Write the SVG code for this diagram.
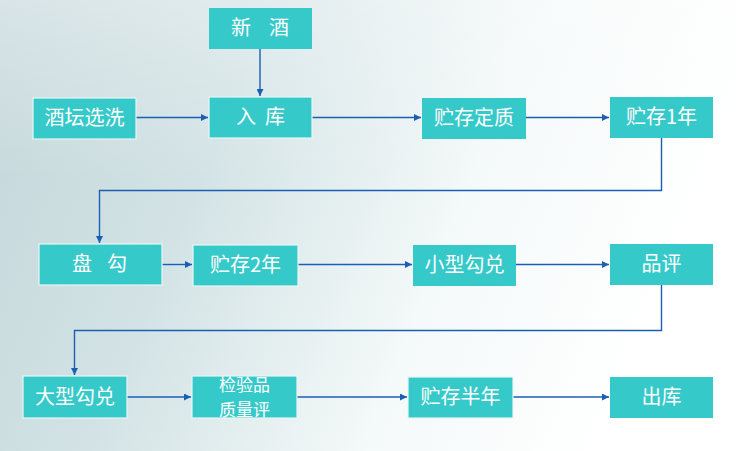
<svg xmlns="http://www.w3.org/2000/svg" width="736" height="451" viewBox="0 0 736 451">
<defs>
<linearGradient id="bg" x1="0" y1="0" x2="1" y2="0.25">
<stop offset="0" stop-color="#c3d6da"/>
<stop offset="0.35" stop-color="#d3e3e5"/>
<stop offset="0.7" stop-color="#f4f9f9"/>
<stop offset="1" stop-color="#ffffff"/>
</linearGradient>
<linearGradient id="bg2" x1="0" y1="0" x2="0" y2="1">
<stop offset="0" stop-color="#ffffff" stop-opacity="0.35"/>
<stop offset="0.4" stop-color="#ffffff" stop-opacity="0"/>
<stop offset="1" stop-color="#ffffff" stop-opacity="0"/>
</linearGradient>
<marker id="arr" viewBox="0 0 10 10" refX="10" refY="5" markerWidth="7" markerHeight="7" markerUnits="userSpaceOnUse" orient="auto">
<path d="M0,0 L10,5 L0,10 z" fill="#1a5fb4"/>
</marker>
<style>
.box{fill:#35c9c9;}
.bw{stroke:#e8f6f6;stroke-width:1.2;}
.t{fill:#ffffff;font-family:"Noto Sans CJK SC","Noto Sans",sans-serif;font-size:20px;text-anchor:middle;}
.s{font-size:17px;}
.c{fill:none;stroke:#1a5fb4;stroke-width:1.4;}
</style>
</defs>
<rect x="0" y="0" width="736" height="451" fill="url(#bg)"/>
<rect x="0" y="0" width="736" height="451" fill="url(#bg2)"/>
<g id="connectors">
<line class="c" x1="260" y1="49" x2="260" y2="96" marker-end="url(#arr)"/>
<line class="c" x1="136" y1="117.5" x2="208" y2="117.5" marker-end="url(#arr)"/>
<line class="c" x1="312" y1="117.5" x2="421" y2="117.5" marker-end="url(#arr)"/>
<line class="c" x1="526" y1="117.5" x2="609" y2="117.5" marker-end="url(#arr)"/>
<polyline class="c" points="661.5,138 661.5,190.5 99.5,190.5 99.5,243" marker-end="url(#arr)"/>
<line class="c" x1="162" y1="264.5" x2="192" y2="264.5" marker-end="url(#arr)"/>
<line class="c" x1="298" y1="264.5" x2="412" y2="264.5" marker-end="url(#arr)"/>
<line class="c" x1="516" y1="264.5" x2="609" y2="264.5" marker-end="url(#arr)"/>
<polyline class="c" points="661.5,285 661.5,330.5 74.5,330.5 74.5,375" marker-end="url(#arr)"/>
<line class="c" x1="127" y1="397" x2="191" y2="397" marker-end="url(#arr)"/>
<line class="c" x1="297" y1="397" x2="407" y2="397" marker-end="url(#arr)"/>
<line class="c" x1="513" y1="397" x2="609" y2="397" marker-end="url(#arr)"/>
</g>
<g id="n-xinjiu"><rect class="box" x="209" y="8" width="103" height="41"/><text class="t" y="35"><tspan x="241">新</tspan><tspan x="279">酒</tspan></text></g>
<g id="n-jiutan"><rect class="box bw" x="33" y="98" width="103" height="41"/><text class="t" x="84.5" y="125">酒坛选洗</text></g>
<g id="n-ruku"><rect class="box bw" x="209" y="97" width="103" height="41"/><text class="t" y="124"><tspan x="246">入</tspan><tspan x="275">库</tspan></text></g>
<g id="n-dingzhi"><rect class="box" x="422" y="98" width="104" height="41"/><text class="t" x="474" y="125">贮存定质</text></g>
<g id="n-1nian"><rect class="box" x="610" y="97" width="103" height="41"/><text class="t" x="661.5" y="124">贮存1年</text></g>
<g id="n-pangou"><rect class="box bw" x="39" y="244" width="123" height="41"/><text class="t" y="271"><tspan x="82">盘</tspan><tspan x="117">勾</tspan></text></g>
<g id="n-2nian"><rect class="box bw" x="193" y="245" width="105" height="41"/><text class="t" x="245.5" y="272">贮存2年</text></g>
<g id="n-xiaoxing"><rect class="box" x="413" y="245" width="103" height="41"/><text class="t" x="464.5" y="272">小型勾兑</text></g>
<g id="n-pinping"><rect class="box" x="610" y="244" width="103" height="41"/><text class="t" x="661.5" y="271">品评</text></g>
<g id="n-daxing"><rect class="box bw" x="23" y="376" width="104" height="42"/><text class="t" x="75" y="404">大型勾兑</text></g>
<g id="n-jianyan"><rect class="box bw" x="192" y="376" width="105" height="42"/><text class="t s" x="244.5" y="391">检验品</text><text class="t s" x="244.5" y="415.5">质量评</text></g>
<g id="n-bannian"><rect class="box bw" x="408" y="377" width="105" height="41"/><text class="t" x="460.5" y="404">贮存半年</text></g>
<g id="n-chuku"><rect class="box" x="610" y="377" width="103" height="41"/><text class="t" x="661.5" y="404">出库</text></g>
</svg>
